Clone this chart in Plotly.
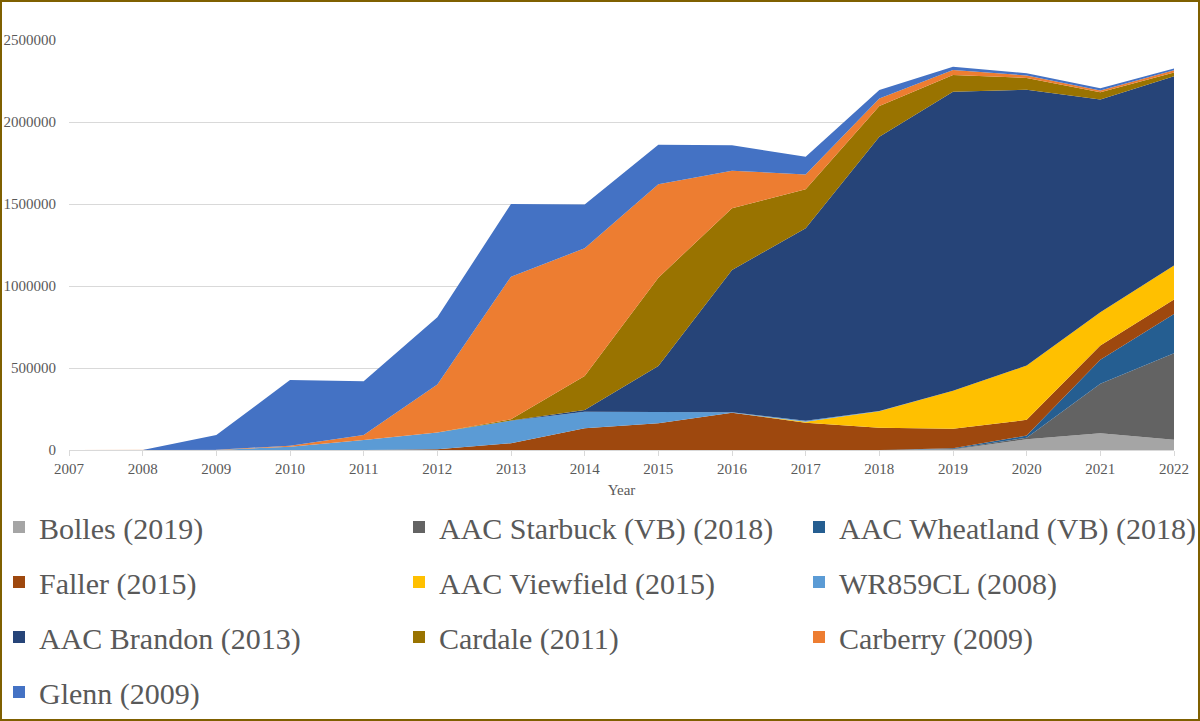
import plotly.graph_objects as go

years = list(range(2007, 2023))

bolles    = [0, 0, 0, 0, 0, 0, 0, 0, 0, 0, 0, 0, 3000, 65000, 102000, 62000]
starbuck  = [0, 0, 0, 0, 0, 0, 0, 0, 0, 0, 0, 0, 3000, 10000, 302000, 528000]
wheatland = [0, 0, 0, 0, 0, 0, 0, 0, 0, 0, 0, 0, 4000, 13000, 146000, 240000]
faller    = [0, 0, 0, 0, 0, 5000, 41000, 132000, 163000, 227000, 166000, 136000, 119000, 96000, 87000, 88000]
viewfield = [0, 0, 0, 0, 0, 0, 0, 0, 0, 0, 6000, 100000, 233000, 331000, 203000, 207000]
wr859cl   = [0, 0, 0, 20000, 61000, 102000, 138000, 101000, 67000, 3000, 7000, 2000, 0, 0, 0, 0]
brandon   = [0, 0, 0, 0, 0, 0, 1000, 11000, 282000, 868000, 1173000, 1672000, 1823000, 1681000, 1297000, 1154000]
cardale   = [0, 0, 0, 0, 0, 0, 7000, 207000, 539000, 376000, 238000, 188000, 102000, 73000, 45000, 23000]
carberry  = [0, 0, 2000, 6000, 31000, 293000, 870000, 779000, 569000, 229000, 90000, 46000, 30000, 15000, 10000, 13000]
glenn     = [0, 0, 89000, 401000, 327000, 409000, 443000, 267000, 242000, 155000, 108000, 51000, 20000, 14000, 14000, 11000]

names = ["Bolles (2019)", "AAC Starbuck (VB) (2018)", "AAC Wheatland (VB) (2018)",
         "Faller (2015)", "AAC Viewfield (2015)", "WR859CL (2008)",
         "AAC Brandon (2013)", "Cardale (2011)", "Carberry (2009)", "Glenn (2009)"]
series = [bolles, starbuck, wheatland, faller, viewfield, wr859cl, brandon, cardale, carberry, glenn]
colors = ["#A5A5A5", "#636363", "#255E91", "#9E480E", "#FFC000", "#5B9BD5",
          "#264478", "#997300", "#ED7D31", "#4472C4"]

y_ticks = [0, 500000, 1000000, 1500000, 2000000, 2500000]

W, H = 1200, 721
L, R, T, B = 69, 26, 40, 271
PW, PH = W - L - R, H - T - B

fig = go.Figure()
for nm, vals, col in zip(names, series, colors):
    fig.add_trace(go.Scatter(
        x=years, y=vals, name=nm, stackgroup="one", mode="lines",
        line=dict(width=0, color=col), fillcolor=col, showlegend=False,
        hoverinfo="x+y+name"))

# legend entries: three columns
legend_ids = ["legend", "legend2", "legend3"]
for i, (nm, col) in enumerate(zip(names, colors)):
    fig.add_trace(go.Scatter(
        x=[None], y=[None], mode="markers", name=nm,
        marker=dict(symbol="square", size=13, color=col),
        legend=legend_ids[i % 3], legendgroup=nm, showlegend=True))

def px_x(px):
    return (px - L) / PW

def px_y(py):
    return (H - B - py) / PH

leg_font = dict(family="Liberation Serif", size=30, color="#595959")
col_px = [-1, 399, 799]
legends = {}
for lid, cx in zip(legend_ids, col_px):
    legends[lid] = dict(
        x=px_x(cx), y=px_y(501), xanchor="left", yanchor="top",
        orientation="v", font=leg_font, tracegroupgap=13,
        bgcolor="rgba(0,0,0,0)", itemsizing="constant", itemwidth=30)

fig.update_layout(
    width=W, height=H,
    margin=dict(l=L, r=R, t=T, b=B, autoexpand=False),
    paper_bgcolor="white", plot_bgcolor="white",
    font=dict(family="Liberation Serif", size=15, color="#595959"),
    xaxis=dict(range=[2007, 2022], tickvals=years, ticktext=[str(y) for y in years],
               showgrid=False, zeroline=False, showline=True, linecolor="#D9D9D9",
               linewidth=1, ticks="outside", tickcolor="#D9D9D9", ticklen=5,
               tickfont=dict(family="Liberation Serif", size=15, color="#595959"),
               title=dict(text="Year", standoff=8,
                          font=dict(family="Liberation Serif", size=15, color="#595959"))),
    yaxis=dict(range=[0, 2500000], tickvals=y_ticks, ticktext=[str(v) for v in y_ticks],
               showgrid=True, gridcolor="#D9D9D9", gridwidth=1, zeroline=False,
               showline=False, ticks="", ticklabelstandoff=12,
               tickfont=dict(family="Liberation Serif", size=15, color="#595959")),
    shapes=[dict(type="rect", xref="paper", yref="paper",
                 x0=px_x(1), x1=px_x(1199), y0=px_y(720), y1=px_y(1),
                 line=dict(color="#7F6000", width=2), layer="above")],
    **legends,
)

fig.write_html("out.html")
